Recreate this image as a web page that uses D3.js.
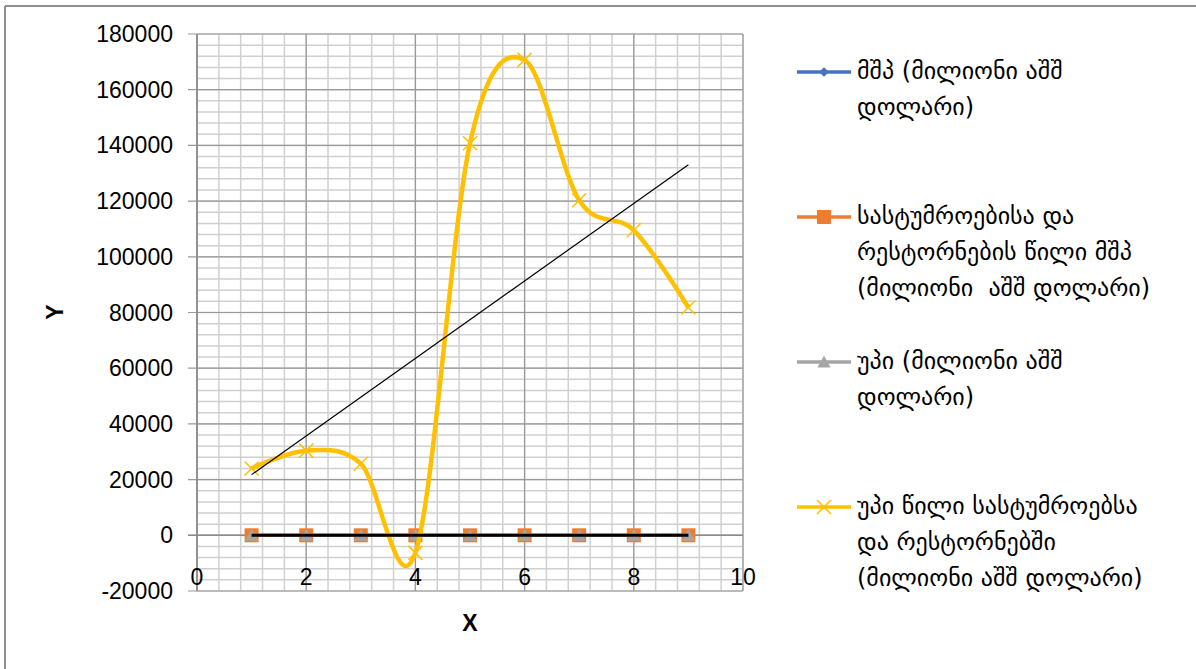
<!DOCTYPE html>
<html>
<head>
<meta charset="utf-8">
<script src="https://cdn.jsdelivr.net/npm/d3@7"></script>
<style>
  html, body { margin: 0; padding: 0; background: #fff; }
  svg { display: block; }
  .legend-text { white-space: pre; }
</style>
</head>
<body>
<svg id="chart" width="1196" height="669"></svg>
<script>
// ---- data ----
const xValues = [1, 2, 3, 4, 5, 6, 7, 8, 9];
const gdpValues = [0, 0, 0, 0, 0, 0, 0, 0, 0];
const hotelShareGdpValues = [0, 0, 0, 0, 0, 0, 0, 0, 0];
const fdiValues = [0, 0, 0, 0, 0, 0, 0, 0, 0];
const fdiHotelValues = [24000, 30400, 25700, -6300, 140800, 170700, 120300, 109500, 81800];
const xTicks = [0, 2, 4, 6, 8, 10];
const yTicks = [-20000, 0, 20000, 40000, 60000, 80000, 100000, 120000, 140000, 160000, 180000];
const seriesNames = [
  ["მშპ (მილიონი აშშ", "დოლარი)"],
  ["სასტუმროებისა და", "რესტორნების წილი მშპ", "(მილიონი  აშშ დოლარი)"],
  ["უპი (მილიონი აშშ", "დოლარი)"],
  ["უპი წილი სასტუმროებსა", "და რესტორნებში", "(მილიონი აშშ დოლარი)"]
];
const seriesColors = ["#4472C4", "#ED7D31", "#A5A5A5", "#FFC000"];

(function () {
// ---- layout ----
const svg = d3.select("#chart");
const pLeft = 197, pRight = 743, pTop = 34, pBottom = 591;
const x = d3.scaleLinear().domain([0, 10]).range([pLeft, pRight]);
const y = d3.scaleLinear().domain([-20000, 180000]).range([pBottom, pTop]);

// outer frame (top + left)
svg.append("line").attr("x1", 5).attr("x2", 1196).attr("y1", 6).attr("y2", 6)
  .attr("stroke", "#8f8f8f").attr("stroke-width", 2);
svg.append("line").attr("x1", 5).attr("x2", 5).attr("y1", 6).attr("y2", 669)
  .attr("stroke", "#8f8f8f").attr("stroke-width", 2);

const g = svg.append("g");

// minor gridlines
const xMinor = d3.range(0, 10.0001, 0.4);
const yMinor = d3.range(-20000, 180001, 4000);
g.append("g").selectAll("line").data(xMinor).join("line")
  .attr("x1", d => x(d)).attr("x2", d => x(d)).attr("y1", pTop).attr("y2", pBottom)
  .attr("stroke", "#d0d0d0").attr("stroke-width", 1.5);
g.append("g").selectAll("line").data(yMinor).join("line")
  .attr("x1", pLeft).attr("x2", pRight).attr("y1", d => y(d)).attr("y2", d => y(d))
  .attr("stroke", "#d0d0d0").attr("stroke-width", 1.5);

// major gridlines
g.append("g").selectAll("line").data(xTicks).join("line")
  .attr("x1", d => x(d)).attr("x2", d => x(d)).attr("y1", pTop).attr("y2", pBottom)
  .attr("stroke", "#999").attr("stroke-width", 1.2);
g.append("g").selectAll("line").data(yTicks).join("line")
  .attr("x1", pLeft - 9).attr("x2", pRight).attr("y1", d => y(d)).attr("y2", d => y(d))
  .attr("stroke", "#999").attr("stroke-width", 1.2);

// axis lines
g.append("line").attr("x1", pLeft).attr("x2", pLeft).attr("y1", pTop).attr("y2", pBottom)
  .attr("stroke", "#8a8a8a").attr("stroke-width", 1.6);
g.append("line").attr("x1", pLeft - 9).attr("x2", pRight).attr("y1", y(0)).attr("y2", y(0))
  .attr("stroke", "#8a8a8a").attr("stroke-width", 1.6);

// tick labels
const tickFont = "'Liberation Sans', Arial, sans-serif";
g.append("g").selectAll("text").data(yTicks).join("text")
  .attr("x", pLeft - 24).attr("y", d => y(d)).attr("dy", "0.35em")
  .attr("text-anchor", "end").attr("font-family", tickFont).attr("font-size", 23)
  .attr("fill", "#000").text(d => d);
g.append("g").selectAll("text").data(xTicks).join("text")
  .attr("x", d => x(d)).attr("y", 577).attr("dy", "0.35em")
  .attr("text-anchor", "middle").attr("font-family", tickFont).attr("font-size", 23)
  .attr("fill", "#000").text(d => d);

// axis titles
svg.append("text").attr("transform", "translate(55,312) rotate(-90)")
  .attr("text-anchor", "middle").attr("dy", "0.35em")
  .attr("font-family", tickFont).attr("font-weight", "bold").attr("font-size", 23)
  .text("Y");
svg.append("text").attr("x", 470).attr("y", 623).attr("dy", "0.35em")
  .attr("text-anchor", "middle")
  .attr("font-family", tickFont).attr("font-weight", "bold").attr("font-size", 23)
  .text("X");

// ---- series ----
const allSeries = [gdpValues, hotelShareGdpValues, fdiValues, fdiHotelValues];
const straight = d3.line().x(d => x(d[0])).y(d => y(d[1]));
const smooth = d3.line().x(d => x(d[0])).y(d => y(d[1])).curve(d3.curveCardinal.tension(0));

function marker(sel, type, color, size) {
  if (type === "diamond") {
    sel.append("path").attr("d", d3.symbol(d3.symbolDiamond2, size * size * 0.5)())
      .attr("fill", color);
  } else if (type === "square") {
    sel.append("rect").attr("x", -size / 2).attr("y", -size / 2)
      .attr("width", size).attr("height", size).attr("fill", color);
  } else if (type === "triangle") {
    sel.append("path").attr("d", `M0,${-size * 0.55}L${size * 0.55},${size * 0.45}L${-size * 0.55},${size * 0.45}Z`)
      .attr("fill", color);
  } else if (type === "x") {
    const h = size / 2;
    sel.append("path").attr("d", `M${-h},${-h}L${h},${h}M${-h},${h}L${h},${-h}`)
      .attr("stroke", color).attr("stroke-width", 1.5).attr("fill", "none");
  }
}
const markerTypes = ["diamond", "square", "triangle", "x"];
const markerSizes = [11, 14, 12, 14];

allSeries.forEach((vals, i) => {
  const pts = xValues.map((xv, j) => [xv, vals[j]]);
  const lineGen = i === 3 ? smooth : straight;
  g.append("path").datum(pts).attr("d", lineGen)
    .attr("fill", "none").attr("stroke", seriesColors[i])
    .attr("stroke-width", i === 3 ? 4.5 : 3).attr("stroke-linejoin", "round");
  pts.forEach(p => {
    const m = g.append("g").attr("transform", `translate(${x(p[0])},${y(p[1])})`);
    marker(m, markerTypes[i], seriesColors[i], markerSizes[i]);
  });
});

// linear trendlines
function linReg(xs, ys) {
  const mx = d3.mean(xs), my = d3.mean(ys);
  const sxy = d3.sum(xs, (xv, k) => (xv - mx) * (ys[k] - my));
  const sxx = d3.sum(xs, xv => (xv - mx) * (xv - mx));
  const b = sxx === 0 ? 0 : sxy / sxx;
  return xv => my + b * (xv - mx);
}
const xMin = d3.min(xValues), xMax = d3.max(xValues);
const zeroTrend = linReg(xValues, fdiValues);
g.append("line").attr("x1", x(xMin)).attr("x2", x(xMax))
  .attr("y1", y(zeroTrend(xMin))).attr("y2", y(zeroTrend(xMax)))
  .attr("stroke", "#000").attr("stroke-width", 3);
const fdiTrend = linReg(xValues, fdiHotelValues);
g.append("line").attr("x1", x(xMin)).attr("x2", x(xMax))
  .attr("y1", y(fdiTrend(xMin))).attr("y2", y(fdiTrend(xMax)))
  .attr("stroke", "#000").attr("stroke-width", 1.2);

// ---- legend ----
const legendFont = "'DejaVu Sans', 'Noto Sans', sans-serif";
const legendY = [72, 217, 362, 507];
const lineH = 36;
seriesNames.forEach((lines, i) => {
  const lg = svg.append("g").attr("transform", `translate(0,${legendY[i]})`);
  lg.append("line").attr("x1", 797).attr("x2", 851).attr("y1", 0).attr("y2", 0)
    .attr("stroke", seriesColors[i]).attr("stroke-width", 3.5);
  const m = lg.append("g").attr("transform", "translate(824,0)");
  marker(m, markerTypes[i], seriesColors[i], markerSizes[i]);
  lg.selectAll("text").data(lines).join("text")
    .attr("class", "legend-text")
    .attr("x", 857).attr("y", (d, k) => k * lineH).attr("dy", "0.3em")
    .attr("font-family", legendFont).attr("font-size", 24).attr("fill", "#000")
    .text(d => d);
});
})();
</script>
</body>
</html>
